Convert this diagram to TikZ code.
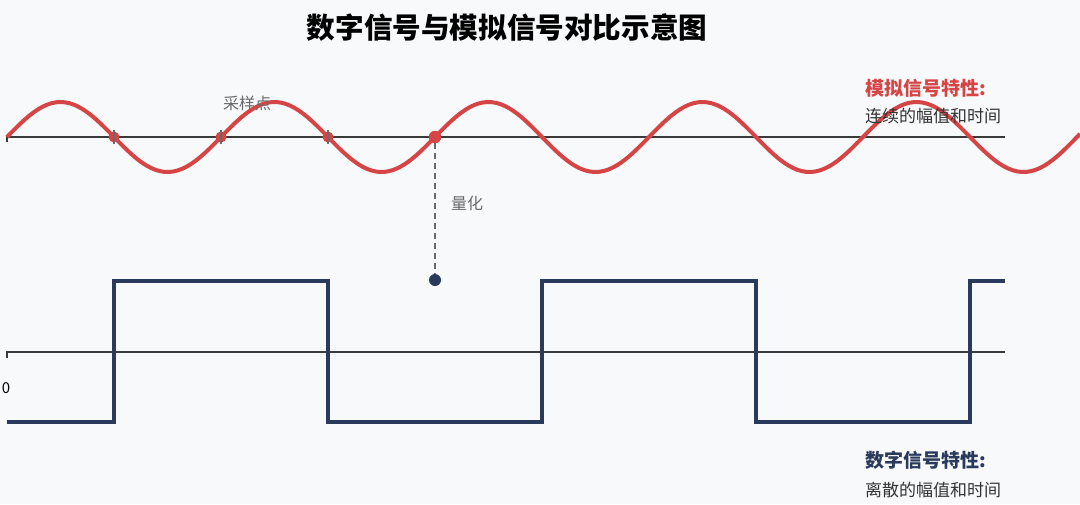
\documentclass[tikz,border=0pt]{standalone}
\usepackage{fontspec}
\setmainfont{Noto Sans CJK SC}
\usetikzlibrary{arrows.meta,positioning}
\definecolor{bgcol}{HTML}{F8F9FA}
\definecolor{analogred}{HTML}{D64546}
\definecolor{digitalnavy}{HTML}{2A3A5C}
\definecolor{axisgray}{HTML}{3A3A3A}
\definecolor{labelgray}{HTML}{6A6A6A}
\definecolor{textdark}{HTML}{333333}

\begin{document}
\begin{tikzpicture}[x=1pt,y=-1pt,line join=miter,axis/.style={axisgray,line width=2.4pt},analog/.style={analogred,line width=4pt},digital/.style={digitalnavy,line width=3.6pt},sample/.style={circle,fill=analogred,inner sep=0pt,minimum size=11pt},note/.style={labelgray,font=\fontsize{16}{18}\selectfont,inner sep=0pt},head/.style={font=\fontsize{19}{21}\selectfont\bfseries,anchor=west,inner sep=0pt},body/.style={textdark,font=\fontsize{17}{19}\selectfont,anchor=west,inner sep=0pt}]
\fill[bgcol] (0,0) rectangle (1080,504);
\useasboundingbox (0,0) rectangle (1080,504);
\node[font=\fontsize{28.6}{32}\selectfont\bfseries] (title) at (507,28) {数字信号与模拟信号对比示意图};
% analog signal
\draw[axis] (7,142)--(7,137)--(1005,137);
\draw[analog] plot[domain=7:1080,samples=240] (\x,{137-35*sin(((\x-7)/214)*360)});
\foreach \i/\px in {1/114,2/221,3/328}{
  \node[sample] (s\i) at (\px,137) {};
  \draw[labelgray,line width=1.3pt] (\px,130)--(\px,144);
}
\node[sample,minimum size=12.5pt] (s4) at (435,137) {};
\node[note] (samplelbl) at (247,103) {采样点};
% quantisation
\node[circle,fill=digitalnavy,inner sep=0pt,minimum size=12pt] (q) at (435,280) {};
\draw[labelgray,line width=1.3pt,dash pattern=on 6pt off 4pt] (s4)--(q);
\node[note] (quantlbl) at (467,203) {量化};
% digital signal
\draw[axis] (7,358)--(7,352)--(1005,352);
\node[font=\fontsize{15}{17}\selectfont,inner sep=0pt] (zero) at (6,388) {0};
\draw[digital] (7,422)--(114,422)--(114,281)--(328,281)--(328,422)--(542,422)--(542,281)--(756,281)--(756,422)--(970,422)--(970,281)--(1005,281);
% legends
\node[head,analogred] (ahead) at (865,88) {模拟信号特性:};
\node[body] (abody) at (865,116) {连续的幅值和时间};
\node[head,digitalnavy] (dhead) at (865,460) {数字信号特性:};
\node[body] (dbody) at (865,490) {离散的幅值和时间};
\end{tikzpicture}
\end{document}
